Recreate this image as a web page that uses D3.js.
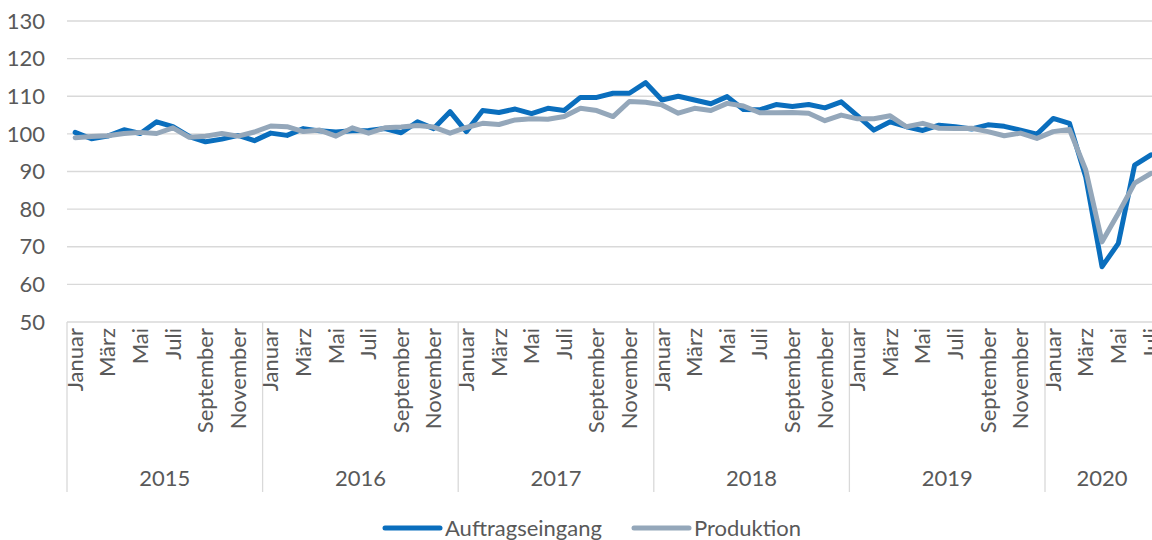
<!DOCTYPE html>
<html>
<head>
<meta charset="utf-8">
<script src="https://cdn.jsdelivr.net/npm/d3@7"></script>
<style>
  body { margin: 0; background: #fff; }
  svg { display: block; font-family: Lato, "Open Sans", sans-serif; }
</style>
</head>
<body>
<div id="chart"></div>
<script>
// data
const jahre = ["2015", "2016", "2017", "2018", "2019", "2020"];
const monate = ["Januar", "Februar", "März", "April", "Mai", "Juni", "Juli",
  "August", "September", "Oktober", "November", "Dezember"];
const monateLetztesJahr = 7; // 2020 nur bis Juli

const auftragseingang = [
  100.4, 98.7, 99.4, 101.1, 100.1, 103.2, 101.9, 99.3, 97.9, 98.6, 99.6, 98.2,
  100.2, 99.6, 101.4, 100.8, 100.5, 100.8, 100.9, 101.4, 100.3, 103.2, 101.4, 105.9,
  100.6, 106.2, 105.7, 106.6, 105.4, 106.8, 106.2, 109.7, 109.7, 110.8, 110.8, 113.6,
  109.0, 110.0, 109.0, 108.0, 109.9, 106.5, 106.4, 107.8, 107.3, 107.8, 106.9, 108.5,
  104.8, 101.0, 103.2, 101.9, 100.9, 102.3, 101.9, 101.3, 102.4, 102.0, 101.0, 99.9,
  104.1, 102.8, 88.5, 64.7, 70.9, 91.7, 94.4
];
const produktion = [
  99.0, 99.3, 99.5, 100.1, 100.4, 100.1, 101.6, 99.1, 99.4, 100.1, 99.4, 100.5,
  102.1, 101.9, 100.6, 101.0, 99.4, 101.6, 100.2, 101.6, 101.8, 102.2, 101.8, 100.2,
  101.7, 102.8, 102.5, 103.7, 104.0, 103.9, 104.6, 106.8, 106.2, 104.6, 108.6, 108.4,
  107.7, 105.5, 106.8, 106.2, 108.1, 107.4, 105.6, 105.6, 105.7, 105.5, 103.5, 105.0,
  104.0, 104.0, 104.8, 101.9, 102.8, 101.5, 101.4, 101.5, 100.6, 99.5, 100.2, 98.8,
  100.6, 101.2, 90.4, 71.3, 78.9, 86.9, 89.5
];
const yTicks = [50, 60, 70, 80, 90, 100, 110, 120, 130];

const serien = [
  { name: "Auftragseingang", values: auftragseingang, color: "#0A6EBD" },
  { name: "Produktion", values: produktion, color: "#94A7BA" }
];

// categories: one per month
const kategorien = [];
jahre.forEach((j, ji) => {
  const n = ji === jahre.length - 1 ? monateLetztesJahr : 12;
  for (let m = 0; m < n; m++) kategorien.push({ jahr: j, monat: m, key: j + "-" + m });
});

const width = 1152, height = 540;
const plotLeft = 67, plotTop = 21, plotBottom = 322;
const monatBreite = 16.3;
const plotRight = plotLeft + kategorien.length * monatBreite;

const grid = "#D9D9D9", textColor = "#595959", fontSize = 22;

const svg = d3.select("#chart").append("svg")
  .attr("width", width)
  .attr("height", height);

const x = d3.scaleBand()
  .domain(kategorien.map(d => d.key))
  .range([plotLeft, plotRight])
  .padding(0);

const y = d3.scaleLinear()
  .domain([50, 130])
  .range([plotBottom, plotTop]);

const cx = k => x(k) + x.bandwidth() / 2;

// gridlines
svg.append("g")
  .selectAll("line")
  .data(yTicks)
  .join("line")
  .attr("x1", plotLeft)
  .attr("x2", plotRight)
  .attr("y1", d => y(d))
  .attr("y2", d => y(d))
  .attr("stroke", grid)
  .attr("stroke-width", 1.3);

// y labels
svg.append("g")
  .selectAll("text")
  .data(yTicks)
  .join("text")
  .attr("x", 45)
  .attr("y", d => y(d))
  .attr("dy", "0.35em")
  .attr("text-anchor", "end")
  .attr("fill", textColor)
  .attr("font-size", fontSize)
  .text(d => d);

// year separators
const jahrGrenzen = jahre.map(j => {
  const ks = kategorien.filter(d => d.jahr === j);
  return { jahr: j, x0: x(ks[0].key), x1: x(ks[ks.length - 1].key) + x.bandwidth() };
});

svg.append("g")
  .selectAll("line")
  .data(jahrGrenzen.map(d => d.x0).concat([plotRight]))
  .join("line")
  .attr("x1", d => d)
  .attr("x2", d => d)
  .attr("y1", plotBottom)
  .attr("y2", 492)
  .attr("stroke", grid)
  .attr("stroke-width", 1.3);

// month labels (every second), the last one is cut by the picture edge as in the original
svg.append("g")
  .selectAll("text")
  .data(kategorien.filter(d => d.monat % 2 === 0))
  .join("text")
  .attr("transform", d => `translate(${cx(d.key)},328) rotate(-90)`)
  .attr("dy", "0.35em")
  .attr("text-anchor", "end")
  .attr("fill", textColor)
  .attr("font-size", fontSize)
  .text(d => monate[d.monat]);

// year labels
svg.append("g")
  .selectAll("text")
  .data(jahrGrenzen)
  .join("text")
  .attr("x", d => (d.x0 + d.x1) / 2)
  .attr("y", 486)
  .attr("text-anchor", "middle")
  .attr("fill", textColor)
  .attr("font-size", fontSize)
  .text(d => d.jahr);

// lines
const line = d3.line()
  .x((v, i) => cx(kategorien[i].key))
  .y(v => y(v));

svg.append("g")
  .selectAll("path")
  .data(serien)
  .join("path")
  .attr("d", d => line(d.values))
  .attr("fill", "none")
  .attr("stroke", d => d.color)
  .attr("stroke-width", 5)
  .attr("stroke-linejoin", "round")
  .attr("stroke-linecap", "round");

// legend
const legendX = [385, 634];
const leg = svg.append("g")
  .selectAll("g")
  .data(serien)
  .join("g")
  .attr("transform", (d, i) => `translate(${legendX[i]},528)`);

leg.append("line")
  .attr("x1", 0)
  .attr("x2", 55)
  .attr("stroke", d => d.color)
  .attr("stroke-width", 5)
  .attr("stroke-linecap", "round");

leg.append("text")
  .attr("x", 60)
  .attr("dy", "0.35em")
  .attr("fill", textColor)
  .attr("font-size", fontSize)
  .text(d => d.name);
</script>
</body>
</html>
